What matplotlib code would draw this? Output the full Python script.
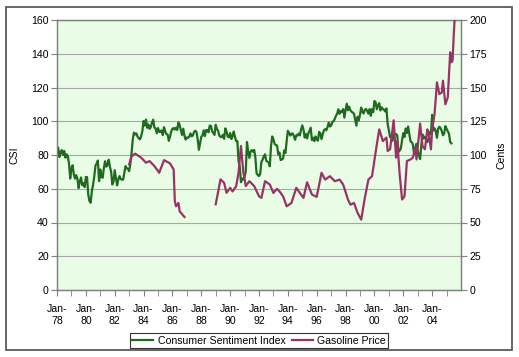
import numpy as np
import matplotlib
matplotlib.use("Agg")
import matplotlib.pyplot as plt
from matplotlib.patches import Rectangle

plt.rcParams['font.family'] = ['Liberation Sans', 'DejaVu Sans']

# ---------------- data ----------------
csi_by_year = {
    1978: [83.7, 84.3, 78.8, 81.6, 82.9, 80.0, 82.4, 78.4, 80.4, 79.3, 75.0, 66.1],
    1979: [72.1, 73.9, 68.4, 66.0, 68.1, 65.8, 60.4, 64.5, 66.7, 62.1, 63.3, 61.0],
    1980: [67.0, 66.9, 56.5, 52.7, 51.7, 58.7, 62.3, 67.3, 73.7, 75.0, 76.7, 64.5],
    1981: [71.4, 66.9, 66.5, 72.4, 76.3, 73.1, 74.1, 77.2, 73.1, 70.3, 62.5, 64.3],
    1982: [71.0, 66.5, 62.0, 65.5, 67.5, 65.7, 65.4, 65.4, 69.3, 73.4, 72.1, 71.9],
    1983: [70.4, 74.6, 80.8, 89.1, 93.3, 92.2, 92.8, 90.9, 89.9, 89.3, 91.1, 94.2],
    1984: [100.1, 97.4, 101.0, 96.1, 98.1, 95.5, 96.6, 99.1, 100.9, 96.3, 95.7, 92.9],
    1985: [96.0, 93.7, 93.7, 94.6, 91.8, 96.5, 94.0, 92.4, 92.1, 88.4, 90.9, 93.9],
    1986: [95.6, 95.9, 95.1, 96.2, 94.8, 99.3, 97.7, 94.9, 91.9, 95.6, 91.4, 89.1],
    1987: [90.4, 90.2, 90.8, 92.8, 91.1, 91.5, 93.7, 94.4, 93.6, 89.3, 83.1, 86.8],
    1988: [90.8, 91.6, 94.6, 91.2, 94.8, 94.7, 93.4, 97.4, 97.3, 94.1, 93.0, 91.9],
    1989: [97.9, 95.4, 94.3, 91.5, 90.7, 90.6, 92.0, 89.6, 95.8, 93.9, 90.9, 90.5],
    1990: [93.0, 89.5, 91.3, 93.9, 90.6, 88.3, 88.2, 76.4, 72.8, 63.9, 66.0, 65.5],
    1991: [66.8, 70.4, 87.7, 81.8, 78.3, 82.1, 82.9, 82.0, 83.0, 78.3, 69.1, 68.2],
    1992: [67.5, 68.8, 76.0, 77.2, 79.2, 80.4, 76.6, 76.1, 75.6, 73.3, 85.3, 91.0],
    1993: [89.3, 86.6, 85.9, 85.6, 80.3, 81.5, 77.0, 77.3, 77.9, 82.7, 81.2, 88.2],
    1994: [94.3, 93.2, 91.5, 92.6, 92.8, 91.2, 89.0, 91.7, 91.5, 92.7, 91.6, 95.1],
    1995: [97.6, 95.1, 90.3, 92.5, 89.8, 92.7, 94.4, 96.2, 88.9, 90.2, 88.2, 91.0],
    1996: [89.3, 88.5, 93.7, 92.7, 89.4, 92.4, 94.7, 95.3, 94.7, 96.5, 99.2, 96.9],
    1997: [97.4, 99.7, 100.0, 101.4, 103.2, 104.5, 107.1, 104.4, 106.0, 105.6, 107.2, 102.1],
    1998: [106.6, 110.4, 106.5, 108.7, 106.5, 105.6, 105.2, 104.4, 100.9, 97.4, 102.7, 100.5],
    1999: [103.9, 108.1, 105.7, 104.6, 106.8, 107.3, 106.0, 104.5, 107.2, 103.2, 107.2, 105.4],
    2000: [112.0, 111.3, 107.1, 109.2, 110.7, 106.4, 108.3, 107.3, 106.8, 105.8, 107.6, 98.4],
    2001: [94.7, 90.6, 91.5, 88.4, 92.0, 92.6, 92.4, 91.5, 81.8, 82.7, 83.9, 88.8],
    2002: [93.0, 90.7, 95.7, 93.0, 96.9, 92.4, 88.1, 87.6, 86.1, 80.6, 84.2, 86.7],
    2003: [82.4, 79.9, 77.6, 86.0, 92.1, 89.7, 90.9, 89.3, 87.7, 89.6, 93.7, 92.6],
    2004: [103.8, 94.4, 95.8, 94.2, 90.2, 95.6, 96.7, 95.9, 94.2, 91.7, 92.8, 97.1],
    2005: [95.5, 94.1, 92.6, 87.7, 86.9],
}

gas_months = [
    "1983-01", "1983-03", "1983-06", "1983-11", "1984-03", "1984-06", "1984-10",
    "1985-02", "1985-06", "1985-11", "1986-02", "1986-03", "1986-04", "1986-06",
    "1986-07", "1986-11",
    "1987-06",
    "1989-01", "1989-05", "1989-08", "1989-10", "1990-01", "1990-03", "1990-06",
    "1990-08", "1990-10", "1990-12", "1991-02", "1991-05", "1991-09", "1992-01",
    "1992-03", "1992-06", "1992-10", "1993-01", "1993-04", "1993-06", "1993-09",
    "1993-12", "1994-04", "1994-08", "1994-11", "1995-02", "1995-05", "1995-09",
    "1996-01", "1996-05", "1996-08", "1996-12", "1997-04", "1997-08", "1997-11",
    "1998-03", "1998-05", "1998-08", "1998-11", "1999-02", "1999-05", "1999-08",
    "1999-11", "2000-03", "2000-05", "2000-08", "2000-11", "2000-12", "2001-02",
    "2001-05", "2001-07", "2001-08", "2001-10", "2001-12", "2002-02", "2002-04",
    "2002-07", "2002-09", "2002-11", "2002-12", "2003-03", "2003-05", "2003-07",
    "2003-09", "2003-10", "2003-12", "2004-01", "2004-03", "2004-05", "2004-07",
    "2004-09", "2004-10", "2004-12", "2005-02", "2005-04", "2005-05", "2005-06",
    "2005-07", "2005-08",
]
gas_cents = [
    93, 99, 101, 98, 94.3, 95.5, 91.8,
    86.8, 96.2, 93.8, 89.3, 65.7, 62, 64.5,
    58.3, 54.1,
    np.nan,
    63.5, 82, 79.4, 72, 75.7, 73, 76.9,
    87, 106.7, 87, 77, 80.6, 77, 69.4,
    68.2, 80.6, 78.1, 71.9, 74.9, 73.1, 69.4,
    62, 64.5, 75.7, 71.9, 68.2, 79.8, 70.7,
    69, 86.8, 81.8, 84.3, 80.6, 81.8, 78.1,
    67, 63.2, 64.5, 57.1, 52.1, 68.2, 81.8,
    84.3, 107.9, 119, 110.3, 112.9, 103, 104.2,
    125.7, 98, 110.3, 85.6, 67, 69.4, 95.5,
    96.7, 98, 105.4, 96.7, 123.3, 106.6, 104.2,
    119, 116.6, 104.2, 119, 130.2, 153.8, 145.1,
    146.3, 155, 137.6, 142.6, 176.1, 168.7, 169.9,
    189.7, 205,
]

x_tick_years = list(range(1978, 2006, 2))
x_tick_labels = ["Jan-\n%02d" % (y % 100) for y in x_tick_years]
csi_ticks = list(range(0, 161, 20))
cents_ticks = list(range(0, 201, 25))

legend_labels = ["Consumer Sentiment Index", "Gasoline Price"]

# ---------------- build x values ----------------
csi_vals = []
csi_x = []
for yr in sorted(csi_by_year):
    for i, v in enumerate(csi_by_year[yr]):
        csi_vals.append(v)
        csi_x.append(yr + i / 12.0)

gas_x = [int(m[:4]) + (int(m[5:]) - 1) / 12.0 for m in gas_months]

# ---------------- figure ----------------
W, H = 519, 357
fig = plt.figure(figsize=(W / 100, H / 100), dpi=100)
fig.patch.set_facecolor("white")

# outer frame
fig.patches.append(Rectangle((6 / W, 7 / H), 506 / W, 343 / H, transform=fig.transFigure,
                             fill=False, edgecolor="#5a5a5a", linewidth=1.3))

L, R, T, B = 57, 461, 20, 290
ax = fig.add_axes([L / W, 1 - B / H, (R - L) / W, (B - T) / H])
ax.set_facecolor("#E9FDE6")

green = "#1E6B1E"
purple = "#993366"
FS = 7.6

l1, = ax.plot(csi_x, csi_vals, color=green, lw=1.6, solid_joinstyle="round", zorder=3)
ax.set_xlim(1978, 2006)
ax.set_ylim(0, 160)
ax.set_yticks(csi_ticks)
ax.grid(axis="y", color="#A8A8A8", lw=0.8)
ax.set_axisbelow(True)

ax2 = ax.twinx()
l2, = ax2.plot(gas_x, gas_cents, color=purple, lw=1.6, solid_joinstyle="round", zorder=3)
ax2.set_ylim(0, 200)
ax2.set_yticks(cents_ticks)
ax2.set_xlim(1978, 2006)

ax.set_xticks(range(1978, 2006), minor=True)
ax.set_xticks(x_tick_years)
ax.set_xticklabels(x_tick_labels, fontsize=FS, linespacing=1.3)

for a in (ax, ax2):
    for s in a.spines.values():
        s.set_color("#808080")
        s.set_linewidth(0.9)
ax.tick_params(axis="y", labelsize=FS, length=4, color="#808080", pad=2)
ax2.tick_params(axis="y", labelsize=FS, length=4, color="#808080", pad=2)
ax.tick_params(axis="x", which="both", length=4, color="#808080", pad=6)

ax.set_ylabel("CSI", fontsize=FS)
ax.yaxis.set_label_coords(-0.092, 0.5)
ax2.set_ylabel("Cents", fontsize=FS)
ax2.yaxis.set_label_coords(1.089, 0.5)

leg = fig.legend([l1, l2], legend_labels, loc="center", bbox_to_anchor=(0.499, 0.046),
                 ncol=2, fontsize=FS, frameon=True, fancybox=False, handlelength=2.0,
                 handletextpad=0.4, columnspacing=0.6, borderpad=0.25, borderaxespad=0)
leg.get_frame().set_edgecolor("black")
leg.get_frame().set_linewidth(0.8)

fig.savefig("out.png", dpi=100)
